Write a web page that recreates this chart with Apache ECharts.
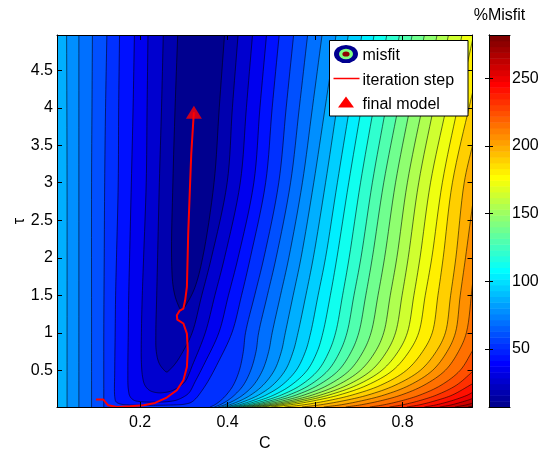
<!DOCTYPE html>
<html>
<head>
<meta charset="utf-8">
<script src="https://cdn.jsdelivr.net/npm/echarts@6/dist/echarts.min.js"></script>
<style>
  html, body { margin: 0; padding: 0; background: #fff; }
  #chart { width: 541px; height: 451px; }
</style>
</head>
<body>
<div id="chart"></div>
<script>
// Axis extents of the misfit surface
const cRange = [0.01, 0.96];
const tauRange = [0.01, 4.97];
const misfitRange = [7, 282];

// Contour levels (% misfit) separating the filled bands
const contourLevels = [15.6, 24.2, 32.8, 41.4, 50.0, 58.6, 67.2, 75.8, 84.4, 93.0,
  101.6, 110.2, 118.8, 127.4, 136.0, 144.6, 153.2, 161.8, 170.4, 179.0,
  187.6, 196.2, 204.8, 213.4, 222.0, 230.6, 239.2, 247.8, 256.4, 265.0, 273.6];

// One isoline per contour level, as [C, tau] points (lower misfit lies to the left of travel)
const isolines = [
  [[0.286,4.97],[0.280,4],[0.275,3],[0.272,2],[0.276,1.6],[0.285,1.4],[0.295,1.3],[0.308,1.4],[0.325,1.6],[0.343,2],[0.369,3],[0.381,4],[0.393,4.97]],
  [[0.253,4.97],[0.249,4],[0.244,3],[0.240,2],[0.238,1.5],[0.236,1],[0.237,0.75],[0.243,0.6],[0.252,0.52],[0.261,0.477],[0.270,0.52],[0.282,0.6],[0.298,0.75],[0.319,1],[0.341,1.5],[0.363,2],[0.399,3],[0.411,4],[0.424,4.97]],
  [[0.218,4.97],[0.216,4],[0.214,3],[0.208,2],[0.205,1.5],[0.203,1],[0.203,0.6],[0.206,0.4],[0.211,0.3],[0.222,0.23],[0.240,0.2],[0.258,0.205],[0.274,0.23],[0.289,0.28],[0.303,0.35],[0.322,0.6],[0.349,1],[0.371,1.5],[0.393,2],[0.429,3],[0.443,4],[0.457,4.97]],
  [[0.187,4.97],[0.184,4],[0.180,3],[0.176,2],[0.174,1.5],[0.173,1],[0.172,0.5],[0.173,0.25],[0.177,0.15],[0.186,0.1],[0.200,0.082],[0.230,0.075],[0.260,0.08],[0.282,0.1],[0.298,0.14],[0.312,0.2],[0.326,0.35],[0.348,0.6],[0.380,1],[0.402,1.5],[0.424,2],[0.460,3],[0.474,4],[0.489,4.97]],
  [[0.153,4.97],[0.151,4],[0.150,3],[0.146,2],[0.144,1.5],[0.143,1],[0.142,0.5],[0.142,0.15],[0.145,0.08],[0.155,0.05],[0.175,0.037],[0.210,0.033],[0.250,0.034],[0.280,0.038],[0.300,0.046],[0.316,0.07],[0.327,0.12],[0.338,0.2],[0.355,0.35],[0.378,0.6],[0.410,1],[0.432,1.5],[0.452,2],[0.487,3],[0.502,4],[0.518,4.97]],
  [[0.124,4.97],[0.121,4],[0.119,3],[0.118,2],[0.117,1],[0.117,0.01],[0.360,0.01],[0.371,0.04],[0.385,0.1],[0.397,0.17],[0.413,0.3],[0.427,0.5],[0.436,0.75],[0.441,1],[0.462,1.5],[0.483,2],[0.517,3],[0.534,4],[0.551,4.97]],
  [[0.091,4.97],[0.090,4],[0.089,3],[0.089,1],[0.089,0.01],[0.370,0.01],[0.383,0.04],[0.401,0.1],[0.416,0.17],[0.436,0.3],[0.453,0.5],[0.465,0.75],[0.471,1],[0.491,1.5],[0.511,2],[0.544,3],[0.564,4],[0.583,4.97]],
  [[0.060,4.97],[0.060,3],[0.060,1],[0.060,0.01],[0.378,0.01],[0.394,0.04],[0.416,0.1],[0.435,0.17],[0.459,0.3],[0.480,0.5],[0.494,0.75],[0.502,1],[0.521,1.5],[0.540,2],[0.571,3],[0.594,4],[0.616,4.97]],
  [[0.032,4.97],[0.033,3],[0.033,1],[0.033,0.01],[0.386,0.01],[0.405,0.04],[0.431,0.1],[0.453,0.17],[0.481,0.3],[0.507,0.5],[0.523,0.75],[0.532,1],[0.550,1.5],[0.568,2],[0.597,3],[0.623,4],[0.648,4.97]],
  [[0.394,0.01],[0.416,0.04],[0.445,0.1],[0.471,0.17],[0.503,0.3],[0.532,0.5],[0.550,0.75],[0.561,1],[0.579,1.5],[0.596,2],[0.624,3],[0.650,4],[0.676,4.97]],
  [[0.402,0.01],[0.427,0.04],[0.460,0.1],[0.488,0.17],[0.524,0.3],[0.557,0.5],[0.578,0.75],[0.590,1],[0.607,1.5],[0.624,2],[0.651,3],[0.679,4],[0.707,4.97]],
  [[0.410,0.01],[0.437,0.04],[0.474,0.1],[0.506,0.17],[0.545,0.3],[0.582,0.5],[0.605,0.75],[0.618,1],[0.635,1.5],[0.650,2],[0.677,3],[0.706,4],[0.735,4.97]],
  [[0.418,0.01],[0.448,0.04],[0.488,0.1],[0.523,0.17],[0.567,0.3],[0.607,0.5],[0.632,0.75],[0.647,1],[0.663,1.5],[0.678,2],[0.704,3],[0.734,4],[0.764,4.97]],
  [[0.426,0.01],[0.459,0.04],[0.502,0.1],[0.540,0.17],[0.587,0.3],[0.630,0.5],[0.657,0.75],[0.673,1],[0.689,1.5],[0.705,2],[0.731,3],[0.762,4],[0.793,4.97]],
  [[0.435,0.01],[0.470,0.04],[0.516,0.1],[0.557,0.17],[0.607,0.3],[0.654,0.5],[0.683,0.75],[0.700,1],[0.716,1.5],[0.731,2],[0.757,3],[0.790,4],[0.822,4.97]],
  [[0.445,0.01],[0.482,0.04],[0.532,0.1],[0.575,0.17],[0.629,0.3],[0.679,0.5],[0.710,0.75],[0.728,1],[0.744,1.5],[0.759,2],[0.784,3],[0.817,4],[0.850,4.97]],
  [[0.455,0.01],[0.495,0.04],[0.548,0.1],[0.594,0.17],[0.651,0.3],[0.704,0.5],[0.738,0.75],[0.757,1],[0.772,1.5],[0.787,2],[0.811,3],[0.845,4],[0.879,4.97]],
  [[0.467,0.01],[0.509,0.04],[0.564,0.1],[0.613,0.17],[0.673,0.3],[0.729,0.5],[0.764,0.75],[0.784,1],[0.799,1.5],[0.813,2],[0.837,3],[0.871,4],[0.905,4.97]],
  [[0.480,0.01],[0.524,0.04],[0.582,0.1],[0.632,0.17],[0.695,0.3],[0.753,0.5],[0.790,0.75],[0.811,1],[0.826,1.5],[0.840,2],[0.864,3],[0.900,4],[0.936,4.97]],
  [[0.500,0.01],[0.544,0.04],[0.603,0.1],[0.655,0.17],[0.719,0.3],[0.778,0.5],[0.815,0.75],[0.837,1],[0.852,1.5],[0.867,2],[0.891,3],[0.926,4],[0.96,4.9]],
  [[0.530,0.01],[0.575,0.04],[0.634,0.1],[0.685,0.17],[0.750,0.3],[0.809,0.5],[0.846,0.75],[0.868,1],[0.881,1.5],[0.893,2],[0.914,3],[0.952,4],[0.96,4.2]],
  [[0.570,0.01],[0.613,0.04],[0.671,0.1],[0.721,0.17],[0.783,0.3],[0.841,0.5],[0.877,0.75],[0.898,1],[0.910,1.5],[0.922,2],[0.941,3],[0.96,3.5]],
  [[0.620,0.01],[0.660,0.04],[0.712,0.1],[0.758,0.17],[0.816,0.3],[0.869,0.5],[0.902,0.75],[0.921,1],[0.932,1.5],[0.944,2],[0.96,2.7]],
  [[0.670,0.01],[0.706,0.04],[0.755,0.1],[0.797,0.17],[0.849,0.3],[0.898,0.5],[0.928,0.75],[0.946,1],[0.96,1.65]],
  [[0.725,0.01],[0.758,0.04],[0.802,0.1],[0.840,0.17],[0.888,0.3],[0.932,0.5],[0.96,0.76]],
  [[0.770,0.01],[0.801,0.04],[0.842,0.1],[0.878,0.17],[0.923,0.3],[0.96,0.48]],
  [[0.810,0.01],[0.840,0.04],[0.879,0.1],[0.914,0.17],[0.96,0.32]],
  [[0.850,0.01],[0.878,0.04],[0.916,0.1],[0.949,0.17],[0.96,0.205]],
  [[0.885,0.01],[0.913,0.04],[0.949,0.1],[0.96,0.123]],
  [[0.920,0.01],[0.947,0.04],[0.96,0.062]],
  [[0.950,0.01],[0.96,0.021]]
];

// Inversion iterations (C, tau) and the final model
const stepC   = [0.099, 0.116, 0.127, 0.147, 0.177, 0.208, 0.234, 0.261, 0.284, 0.299, 0.307, 0.309, 0.307, 0.299, 0.285, 0.284, 0.290, 0.299, 0.303, 0.307, 0.310, 0.314, 0.317, 0.322, 0.323];
const stepTau = [0.109, 0.109, 0.033, 0.011, 0.020, 0.033, 0.064, 0.136, 0.233, 0.367, 0.544, 0.767, 0.989, 1.123, 1.176, 1.233, 1.291, 1.323, 1.433, 1.611, 2.323, 2.944, 3.389, 3.856, 3.94];
const finalModel = [0.323, 3.94];

// Tick labels
const cTicks = [0.2, 0.4, 0.6, 0.8];
const tauTicks = [0.5, 1, 1.5, 2, 2.5, 3, 3.5, 4, 4.5];
const misfitTicks = [50, 100, 150, 200, 250];

// ---- colour map (64-step jet) ----
function jetRow(r) {
  let c;
  if (r <= 8) c = [0, 0, 0.5 + r / 16];
  else if (r <= 24) c = [0, (r - 8) / 16, 1];
  else if (r <= 40) c = [(r - 24) / 16, 1, 1 - (r - 24) / 16];
  else if (r <= 56) c = [1, 1 - (r - 40) / 16, 0];
  else c = [1 - (r - 56) / 16, 0, 0];
  return 'rgb(' + c.map(v => Math.round(v * 255)).join(',') + ')';
}
function colorForValue(v) {
  const f = (v - misfitRange[0]) / (misfitRange[1] - misfitRange[0]);
  const idx = Math.max(0, Math.min(63, Math.floor(f * 64)));
  return jetRow(idx + 1);
}
function bandColor(b) {
  return colorForValue(b === 0 ? misfitRange[0] : contourLevels[b - 1]);
}

// ---- frame helpers ----
const EPS = 1e-9;
function edgeOf(p) {
  if (Math.abs(p[1] - tauRange[1]) < EPS) return 'top';
  if (Math.abs(p[0] - cRange[0]) < EPS) return 'left';
  if (Math.abs(p[1] - tauRange[0]) < EPS) return 'bottom';
  if (Math.abs(p[0] - cRange[1]) < EPS) return 'right';
  return null;
}
// frame corners met when walking counter-clockwise from b back to a
function frameClosure(a, b) {
  const W = cRange[1] - cRange[0], H = tauRange[1] - tauRange[0], P = 2 * (W + H);
  const s = p => {
    const e = edgeOf(p);
    if (e === 'top') return cRange[1] - p[0];
    if (e === 'left') return W + tauRange[1] - p[1];
    if (e === 'bottom') return W + H + p[0] - cRange[0];
    return 2 * W + H + p[1] - tauRange[0];
  };
  const corners = [[cRange[1], tauRange[1], 0], [cRange[0], tauRange[1], W],
                   [cRange[0], tauRange[0], W + H], [cRange[1], tauRange[0], 2 * W + H]];
  const sB = s(b);
  let sA = s(a);
  if (sA <= sB) sA += P;
  const out = [];
  [0, P].forEach(off => corners.forEach(c => {
    const v = c[2] + off;
    if (v > sB && v < sA) out.push([c[0], c[1]]);
  }));
  return out;
}
// split an isoline where it runs along the frame
function runsOf(line) {
  const runs = [];
  let cur = [line[0]];
  for (let i = 1; i < line.length; i++) {
    const e1 = edgeOf(line[i - 1]), e2 = edgeOf(line[i]);
    if (e1 && e1 === e2) { runs.push(cur); cur = [line[i]]; }
    else cur.push(line[i]);
  }
  runs.push(cur);
  return runs;
}
// centripetal Catmull-Rom through pixel points
function smoothRun(pts, seg) {
  const n = pts.length;
  if (n < 3) return pts.slice();
  const ext = [[2 * pts[0][0] - pts[1][0], 2 * pts[0][1] - pts[1][1]]].concat(pts,
    [[2 * pts[n - 1][0] - pts[n - 2][0], 2 * pts[n - 1][1] - pts[n - 2][1]]]);
  const dist = (a, b) => Math.max(1e-4, Math.pow(Math.hypot(b[0] - a[0], b[1] - a[1]), 0.5));
  const out = [pts[0]];
  for (let i = 1; i < ext.length - 2; i++) {
    const P0 = ext[i - 1], P1 = ext[i], P2 = ext[i + 1], P3 = ext[i + 2];
    const t0 = 0, t1 = t0 + dist(P0, P1), t2 = t1 + dist(P1, P2), t3 = t2 + dist(P2, P3);
    for (let j = 1; j <= seg; j++) {
      const t = t1 + (t2 - t1) * j / seg;
      const L = (A, B, ta, tb) => [(tb - t) / (tb - ta) * A[0] + (t - ta) / (tb - ta) * B[0],
                                   (tb - t) / (tb - ta) * A[1] + (t - ta) / (tb - ta) * B[1]];
      const A1 = L(P0, P1, t0, t1), A2 = L(P1, P2, t1, t2), A3 = L(P2, P3, t2, t3);
      const B1 = L(A1, A2, t0, t2), B2 = L(A2, A3, t1, t3);
      out.push(L(B1, B2, t1, t2));
    }
  }
  return out;
}

// Filled bands: painted from the highest band down, each covering its sub-level region
const bandOrder = [];
for (let b = contourLevels.length; b >= 0; b--) bandOrder.push([b]);

function renderBand(params, api) {
  const b = api.value(0);
  let pts;
  if (b === contourLevels.length) {
    pts = [[cRange[0], tauRange[0]], [cRange[1], tauRange[0]], [cRange[1], tauRange[1]], [cRange[0], tauRange[1]]]
      .map(p => api.coord(p));
  } else {
    const line = isolines[b];
    pts = [];
    runsOf(line).forEach(run => {
      pts = pts.concat(smoothRun(run.map(p => api.coord(p)), 8));
    });
    frameClosure(line[0], line[line.length - 1]).forEach(p => pts.push(api.coord(p)));
  }
  return {
    type: 'polygon',
    z2: contourLevels.length - b,
    shape: { points: pts },
    style: { fill: bandColor(b), stroke: bandColor(b), lineWidth: 0.3 }
  };
}

function renderIsoline(params, api) {
  const k = api.value(0);
  const children = runsOf(isolines[k]).filter(r => r.length > 1).map(run => ({
    type: 'polyline',
    shape: { points: smoothRun(run.map(p => api.coord(p)), 8) },
    style: { stroke: 'rgba(0,0,0,0.8)', lineWidth: 0.7, fill: null }
  }));
  return { type: 'group', children: children };
}

// Colour bar: 64 jet steps over the misfit range
const barSteps = [];
for (let i = 0; i < 64; i++) barSteps.push([i]);
function renderBarStep(params, api) {
  const i = api.value(0);
  const span = (misfitRange[1] - misfitRange[0]) / 64;
  const p0 = api.coord([0, misfitRange[0] + i * span]);
  const p1 = api.coord([1, misfitRange[0] + (i + 1) * span]);
  return {
    type: 'rect',
    shape: { x: p0[0], y: p1[1], width: p1[0] - p0[0], height: p0[1] - p1[1] + 0.5 },
    style: { fill: jetRow(i + 1) }
  };
}

const FONT = 'Liberation Sans, Arial, Helvetica, sans-serif';
const tickStyle = { inside: true, length: 5, lineStyle: { color: '#000', width: 1 } };
const axisLineStyle = { show: true, lineStyle: { color: '#000', width: 1 } };
const legendText = (text, y) => ({ type: 'text', x: 362.5, y: y, z: 101,
  style: { text: text, fontSize: 16, fontFamily: FONT, fill: '#000', verticalAlign: 'middle' } });

const chart = echarts.init(document.getElementById('chart'), null, { renderer: 'canvas' });
chart.setOption({
  animation: false,
  textStyle: { fontFamily: FONT },
  grid: [
    { left: 57, top: 35, width: 415.5, height: 372, containLabel: false, outerBoundsMode: 'none' },
    { left: 489, top: 35, width: 21, height: 372, containLabel: false, outerBoundsMode: 'none' }
  ],
  xAxis: [
    { gridIndex: 0, type: 'value', min: cRange[0], max: cRange[1], position: 'bottom', z: 10,
      axisLine: axisLineStyle, splitLine: { show: false },
      axisTick: Object.assign({ customValues: cTicks }, tickStyle),
      axisLabel: { customValues: cTicks, fontSize: 16, color: '#000', margin: 8, fontFamily: FONT },
      name: 'C', nameLocation: 'middle', nameGap: 26,
      nameTextStyle: { fontSize: 16, color: '#000', fontFamily: FONT } },
    { gridIndex: 0, type: 'value', min: cRange[0], max: cRange[1], position: 'top', z: 10,
      axisLine: axisLineStyle, splitLine: { show: false },
      axisTick: Object.assign({ customValues: cTicks }, tickStyle),
      axisLabel: { show: false } },
    { gridIndex: 1, type: 'value', min: 0, max: 1, position: 'bottom', z: 10,
      axisLine: axisLineStyle, axisTick: { show: false }, axisLabel: { show: false }, splitLine: { show: false } },
    { gridIndex: 1, type: 'value', min: 0, max: 1, position: 'top', z: 10,
      axisLine: axisLineStyle, axisTick: { show: false }, axisLabel: { show: false }, splitLine: { show: false } }
  ],
  yAxis: [
    { gridIndex: 0, type: 'value', min: tauRange[0], max: tauRange[1], position: 'left', z: 10,
      axisLine: axisLineStyle, splitLine: { show: false },
      axisTick: Object.assign({ customValues: tauTicks }, tickStyle),
      axisLabel: { customValues: tauTicks, fontSize: 16, color: '#000', margin: 4, fontFamily: FONT },
      name: 'τ', nameLocation: 'middle', nameGap: 29, nameRotate: 90, nameMoveOverlap: false,
      nameTextStyle: { fontSize: 16, color: '#000', fontFamily: FONT } },
    { gridIndex: 0, type: 'value', min: tauRange[0], max: tauRange[1], position: 'right', z: 10,
      axisLine: axisLineStyle, splitLine: { show: false },
      axisTick: Object.assign({ customValues: tauTicks }, tickStyle),
      axisLabel: { show: false } },
    { gridIndex: 1, type: 'value', min: misfitRange[0], max: misfitRange[1], position: 'right', z: 10,
      axisLine: axisLineStyle, splitLine: { show: false },
      axisTick: { inside: true, length: 4, customValues: misfitTicks, lineStyle: { color: '#000' } },
      axisLabel: { customValues: misfitTicks, fontSize: 16, color: '#000', margin: 2, fontFamily: FONT } },
    { gridIndex: 1, type: 'value', min: misfitRange[0], max: misfitRange[1], position: 'left', z: 10,
      axisLine: axisLineStyle, splitLine: { show: false },
      axisTick: { inside: true, length: 4, customValues: misfitTicks, lineStyle: { color: '#000' } },
      axisLabel: { show: false } }
  ],
  series: [
    { type: 'custom', name: 'misfit', xAxisIndex: 0, yAxisIndex: 0, data: bandOrder,
      renderItem: renderBand, clip: true, silent: true, z: 1 },
    { type: 'custom', name: 'contours', xAxisIndex: 0, yAxisIndex: 0,
      data: isolines.map((_, k) => [k]), renderItem: renderIsoline, clip: true, silent: true, z: 2 },
    { type: 'line', name: 'iteration step', xAxisIndex: 0, yAxisIndex: 0,
      data: stepC.map((c, i) => [c, stepTau[i]]), showSymbol: false, symbol: 'none',
      lineStyle: { color: '#ff0000', width: 2 }, z: 5, silent: true },
    { type: 'scatter', name: 'final model', xAxisIndex: 0, yAxisIndex: 0,
      data: [finalModel], symbol: 'triangle', symbolSize: [16, 13],
      itemStyle: { color: '#ff0000' }, z: 6, silent: true },
    { type: 'custom', name: 'colorbar', xAxisIndex: 2, yAxisIndex: 2, data: barSteps,
      renderItem: renderBarStep, silent: true, z: 1 }
  ],
  graphic: [
    { type: 'text', x: 499.5, y: 16, z: 100,
      style: { text: '%Misfit', fontSize: 16, fontFamily: FONT, fill: '#000', align: 'center', verticalAlign: 'middle' } },
    { type: 'rect', z: 100, shape: { x: 329.5, y: 40.5, width: 138.5, height: 75.5 },
      style: { fill: '#fff', stroke: '#000', lineWidth: 1 } },
    { type: 'circle', z: 101, x: 346, y: 54, scaleY: 0.76, shape: { cx: 0, cy: 0, r: 12 }, style: { fill: '#00008f' } },
    { type: 'circle', z: 102, x: 346, y: 54, scaleY: 0.74, shape: { cx: 0, cy: 0, r: 7 }, style: { fill: '#80ff80' } },
    { type: 'circle', z: 103, x: 346, y: 54, scaleY: 0.72, shape: { cx: 0, cy: 0, r: 3.6 }, style: { fill: '#8f0000' } },
    legendText('misfit', 56),
    { type: 'line', z: 101, shape: { x1: 333.5, y1: 78.5, x2: 359.5, y2: 78.5 }, style: { stroke: '#ff0000', lineWidth: 1.5 } },
    legendText('iteration step', 80.5),
    { type: 'polygon', z: 101, shape: { points: [[338, 107.5], [354, 107.5], [346, 96.5]] }, style: { fill: '#ff0000' } },
    legendText('final model', 104.5)
  ]
});
</script>
</body>
</html>
